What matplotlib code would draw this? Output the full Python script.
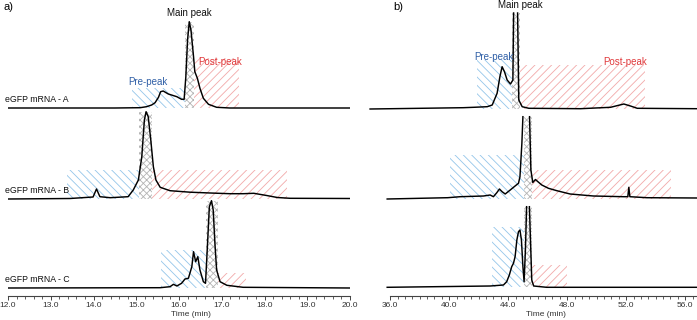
import numpy as np
import matplotlib
matplotlib.use('Agg')
from matplotlib import pyplot as plt

plt.rcParams['font.family'] = ['Liberation Sans', 'DejaVu Sans']
plt.rcParams['hatch.linewidth'] = 0.6

# ---- panel a (12-20 min) : heights above each baseline ----
a_A_t = [12.0, 14.5, 15.09, 15.24, 15.36, 15.44, 15.52, 15.57, 15.63, 15.75, 15.95, 16.06, 16.12,
         16.16, 16.20, 16.24, 16.28, 16.34, 16.37, 16.43, 16.49, 16.57, 16.69, 16.88, 17.19, 18.0, 20.0]
a_A_h = [0, 0, 0.3, 1.3, 3, 5.3, 10.7, 16.3, 17, 14, 11.3, 8.7, 8.7,
         31.3, 68, 86.3, 78, 51.3, 36.3, 29.7, 19.7, 9.7, 3.7, 0.7, 0, 0, 0]

a_B_t = [12.0, 13.45, 13.99, 14.07, 14.15, 14.39, 14.81, 14.93, 15.05, 15.13, 15.19, 15.23, 15.28,
         15.34, 15.40, 15.46, 15.56, 15.79, 16.26, 16.73, 17.19, 17.5, 17.75, 18.05, 18.3, 18.6, 20.0]
a_B_h = [-0.5, 0, 1.5, 9.5, 1.8, 0.8, 1.8, 8.5, 18.5, 41.8, 78.5, 86.8, 81.8,
         58.5, 31.8, 18.5, 11.2, 7.8, 6.3, 5.5, 4.8, 4.8, 5.2, 3.0, 1.0, 0.2, 0]

a_C_t = [12.0, 15.56, 15.79, 15.87, 15.95, 16.06, 16.14, 16.22, 16.30, 16.34, 16.39, 16.44, 16.49,
         16.57, 16.62, 16.66, 16.71, 16.76, 16.80, 16.84, 16.88, 16.96, 17.12, 17.50, 20.0]
a_C_h = [0, 0.3, 1.3, 3.7, 2, 4.7, 9, 9.7, 21.3, 36.3, 26.3, 31.3, 18,
         6.3, 4.7, 38, 81.3, 87.3, 78, 44.7, 18, 6.3, 2.7, 0.7, 0]

# ---- panel b (36-56 min), main peaks run off scale (nan = gap) ----
b_A_t = [34.64, 40.95, 41.67, 42.58, 42.92, 43.25, 43.44, 43.59, 43.75, 43.93, 44.16, 44.32, 44.37,
         np.nan, 44.64, 44.72, 44.95, 45.4, 48.9, 50.94, 51.84, 52.29, 52.75, 56.8]
b_A_h = [-0.5, 0.8, 1.2, 1.8, 3.5, 15.2, 31.8, 41.8, 36.8, 28.5, 24.5, 28.5, 95.5,
         np.nan, 95.5, 8.5, 1.8, 0.2, -0.2, 1.2, 4.5, 2.5, 0.2, -0.2]

b_B_t = [35.8, 39.9, 40.75, 42.33, 42.78, 43.0, 43.23, 43.41, 43.59, 43.8, 44.14, 44.47, 44.7, 44.8,
         44.93, 45.0, np.nan, 45.45, 45.54, 45.67, 45.85, 46.0, 46.28, 46.73, 47.3, 48.2, 49.78,
         51.82, 52.11, 52.18, 52.25, 53.4, 56.8]
b_B_h = [-0.5, 0.8, 1.8, 2.5, 3.5, 1.8, 5.8, 9.5, 6.8, 4.5, 8.5, 12.5, 15.2, 21.8,
         55.2, 81.8, np.nan, 81.8, 28.5, 16, 19, 17, 13.5, 10.2, 7.8, 4.5, 2.5,
         1.8, 1.8, 11.2, 1.8, 0.8, 0.5]

b_C_t = [35.8, 42.78, 43.68, 43.9, 44.08, 44.24, 44.36, 44.47, 44.59, 44.7, 44.8, 44.9, 45.0,
         45.08, 45.17, 45.25, np.nan, 45.44, 45.6, 45.73, 46.6, 56.8]
b_C_h = [-0.3, 1, 2, 5.3, 12, 20.3, 23.7, 30.3, 47, 55.3, 57, 47, 20.3,
         5.3, 37, 80.3, np.nan, 80.3, 7, 1, -0.3, -0.3]

# baselines (stack offsets)
a_base = [188, 97.5, 8]
b_base = [187.5, 97.5, 9]

# fractions: (start, end, height) for pre / main / post per sample
a_pre = [(14.89, 16.14, 20), (13.39, 15.07, 28.5), (15.58, 16.62, 38)]
a_main = [(16.14, 16.35, 86.3), (15.07, 15.36, 86.8), (16.62, 16.92, 87.3)]
a_post = [(16.35, 17.41, 50), (15.36, 18.52, 28.5), (16.92, 17.56, 15.3)]
b_pre = [(41.9, 44.27, 48.5), (40.07, 45.04, 43.5), (42.9, 45.1, 60.3)]
b_main = [(44.27, 44.79, 95.5), (45.04, 45.6, 81.8), (45.1, 45.6, 80.3)]
b_post = [(44.79, 53.3, 43.5), (45.6, 55.05, 28.5), (45.6, 48.0, 22)]

samples = ['eGFP mRNA - A', 'eGFP mRNA - B', 'eGFP mRNA - C']

blue = '#94c6ea'
red = '#f2a9a9'
grey = '#b4b4b4'

fig = plt.figure(figsize=(6.97, 3.2), dpi=100)
ax1 = fig.add_axes([8/697, 24/320, 342/697, 296/320])
ax2 = fig.add_axes([368/697, 24/320, 329/697, 296/320])


def region(ax, reg, base, col, hatch):
    for (t0, t1, h), b in zip(reg, base):
        ax.fill_between([t0, t1], b, b + h, facecolor='none', edgecolor=col,
                        hatch=hatch, linewidth=0, zorder=1)


def setup(ax, lo, hi, bound_hi, major, minor):
    ax.set_xlim(lo, hi)
    ax.set_ylim(0, 296)
    for s in ['top', 'left', 'right']:
        ax.spines[s].set_visible(False)
    ax.spines['bottom'].set_bounds(major[0], bound_hi)
    ax.spines['bottom'].set_color('#444444')
    ax.spines['bottom'].set_linewidth(0.8)
    ax.set_yticks([])
    ax.set_xticks(major)
    ax.set_xticklabels(['%.1f' % v for v in major])
    ax.set_xticks(minor, minor=True)
    ax.tick_params(axis='x', which='major', length=3, width=0.7, pad=1.5,
                   labelsize=6, colors='#444444', labelcolor='#333333')
    ax.tick_params(axis='x', which='minor', length=1.8, width=0.6, colors='#444444')
    ax.patch.set_visible(False)


# panel a
for reg, col, hatch in [(a_pre, blue, '\\\\\\\\'), (a_post, red, '////'), (a_main, grey, 'xxxxx')]:
    region(ax1, reg, a_base, col, hatch)
for t, h, b in zip([a_A_t, a_B_t, a_C_t], [a_A_h, a_B_h, a_C_h], a_base):
    ax1.plot(t, np.array(h) + b, color='black', lw=1.05, zorder=3)
for name, b in zip(samples, a_base):
    ax1.text(11.93, b + 3.5, name, fontsize=6.3, ha='left', va='bottom', color='#111111')
setup(ax1, 12.0, 20.0, 20.0, np.arange(12.0, 20.01, 1.0), np.arange(12.0, 20.01, 0.2))
ax1.text(15.27, 214, 'Pre-peak', color='#2f5fa6', fontsize=7, ha='center', va='center')
ax1.text(16.96, 234, 'Post-peak', color='#e0393b', fontsize=7, ha='center', va='center')
ax1.text(16.23, 283, 'Main peak', color='#111111', fontsize=7, ha='center', va='center')
ax1.text(16.27, -0.061, 'Time (min)', transform=ax1.get_xaxis_transform(),
         fontsize=6, ha='center', va='center', color='#333333')

# panel b
for reg, col, hatch in [(b_pre, blue, '\\\\\\\\'), (b_post, red, '////'), (b_main, grey, 'xxxxx')]:
    region(ax2, reg, b_base, col, hatch)
for t, h, b in zip([b_A_t, b_B_t, b_C_t], [b_A_h, b_B_h, b_C_h], b_base):
    ax2.plot(t, np.array(h) + b, color='black', lw=1.05, zorder=3)
setup(ax2, 34.5, 56.8, 56.8, np.arange(36.0, 56.01, 4.0), np.arange(36.0, 56.81, 0.5))
ax2.text(43.05, 239, 'Pre-peak', color='#2f5fa6', fontsize=7, ha='center', va='center')
ax2.text(51.93, 234, 'Post-peak', color='#e0393b', fontsize=7, ha='center', va='center')
ax2.text(44.81, 291, 'Main peak', color='#111111', fontsize=7, ha='center', va='center')
ax2.text(46.58, -0.061, 'Time (min)', transform=ax2.get_xaxis_transform(),
         fontsize=6, ha='center', va='center', color='#333333')

fig.text(3/697, 1 - 7/320, 'a)', fontsize=8, ha='left', va='center')
fig.text(393/697, 1 - 7/320, 'b)', fontsize=8, ha='left', va='center')

fig.savefig('out.png', dpi=100)
